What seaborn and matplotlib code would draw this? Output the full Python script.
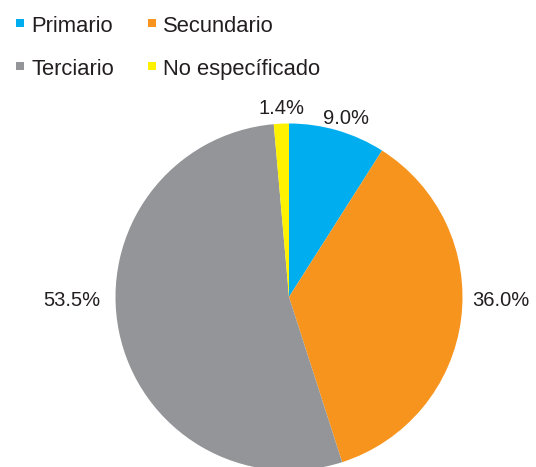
import matplotlib
matplotlib.use("Agg")
import matplotlib.pyplot as plt
import seaborn as sns
from matplotlib.patches import Rectangle

categories = ["Primario", "Secundario", "Terciario", "No específicado"]
values = [9.0, 36.0, 53.5, 1.4]
labels = ["9.0%", "36.0%", "53.5%", "1.4%"]
colors = ["#00AEEF", "#F7941D", "#939598", "#FFF200"]

sns.set_theme(style="white")
plt.rcParams['font.family'] = ['Liberation Sans', 'DejaVu Sans']
text_color = "#231F20"

W, H = 536, 467
fig = plt.figure(figsize=(W / 100, H / 100), dpi=100)
fig.patch.set_facecolor("white")

cx, cy, r = 289, H - 297, 173.5
ax = fig.add_axes([(cx - r) / W, (cy - r) / H, 2 * r / W, 2 * r / H])
ax.axis("off")

wedges, _ = ax.pie(values, colors=colors, startangle=90, counterclock=False,
                   radius=1, wedgeprops=dict(linewidth=0))
ax.set_xlim(-1, 1)
ax.set_ylim(-1, 1)

# label positions in pixel layout (center of text)
label_pos = [(346, 118), (501, 301), (72, 301), (282, 109)]
for lab, (px, py) in zip(labels, label_pos):
    fig.text(px / W, 1 - py / H, lab, ha="center", va="center",
             fontsize=14.5, color=text_color)

# legend, laid out in two rows of two
leg_pos = [(16, 163 - 15, 32), (148, 163, 32), (16, 31, 75), (148, 163, 75)]
leg_pos = [(16, 31, 32), (148, 163, 32), (16, 31, 75), (148, 163, 75)]
for cat, col, (sx, tx, base) in zip(categories, colors, leg_pos):
    fig.patches.append(Rectangle((sx / W, 1 - (base - 5) / H), 8 / W, 8 / H,
                                 transform=fig.transFigure, facecolor=col,
                                 edgecolor="none"))
    fig.text(tx / W, 1 - base / H, cat, ha="left", va="baseline",
             fontsize=15.8, color=text_color)

fig.savefig("out.png", dpi=100)
